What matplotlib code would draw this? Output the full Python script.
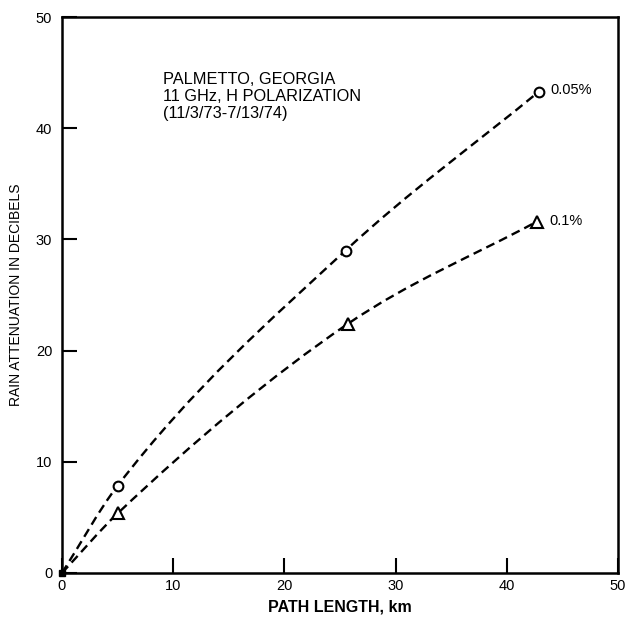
import matplotlib
matplotlib.use("Agg")
import matplotlib.pyplot as plt
from matplotlib.path import Path
from matplotlib.patches import PathPatch

plt.rcParams['font.family'] = ['Liberation Sans', 'DejaVu Sans']

# Data
path_km_005 = [0.0, 5.0, 25.5, 42.9]
atten_005 = [0.0, 7.85, 29.0, 43.3]
path_km_01 = [0.0, 5.05, 25.7, 42.7]
atten_01 = [0.0, 5.4, 22.4, 31.6]
series_labels = ["0.05%", "0.1%"]
x_ticks = [0, 10, 20, 30, 40, 50]
y_ticks = [0, 10, 20, 30, 40, 50]
annotation = "PALMETTO, GEORGIA\n11 GHz, H POLARIZATION\n(11/3/73-7/13/74)"


def smooth_path(xs, ys):
    """Monotone cubic Bezier path through the data points (rendering only)."""
    n = len(xs)
    sec = [(ys[i + 1] - ys[i]) / (xs[i + 1] - xs[i]) for i in range(n - 1)]
    m = [sec[0]] + [(sec[i - 1] + sec[i]) / 2 for i in range(1, n - 1)] + [sec[-1]]
    verts = [(xs[0], ys[0])]
    codes = [Path.MOVETO]
    for i in range(n - 1):
        h = (xs[i + 1] - xs[i]) / 3.0
        verts += [(xs[i] + h, ys[i] + m[i] * h),
                  (xs[i + 1] - h, ys[i + 1] - m[i + 1] * h),
                  (xs[i + 1], ys[i + 1])]
        codes += [Path.CURVE4] * 3
    return Path(verts, codes)


fig = plt.figure(figsize=(6.28, 6.21), dpi=100)
ax = fig.add_axes([0.0987, 0.0773, 0.8853, 0.8953])
ax.set_xlim(0, 50)
ax.set_ylim(0, 50)

lw = 1.7
for xs, ys, mk, ms in [(path_km_005, atten_005, 'o', 7), (path_km_01, atten_01, '^', 8.5)]:
    patch = PathPatch(smooth_path(xs, ys), facecolor='none', edgecolor='black',
                      lw=lw, linestyle=(0, (3.8, 2.2)), transform=ax.transData)
    ax.add_patch(patch)
    ax.plot(xs[1:], ys[1:], linestyle='none', marker=mk, markersize=ms,
            markerfacecolor='white', markeredgecolor='black', markeredgewidth=1.5,
            zorder=3)

ax.plot([0], [0], marker='s', markersize=5, color='black', clip_on=False, zorder=4)

ax.text(path_km_005[-1] + 1.0, atten_005[-1] + 0.1, series_labels[0], fontsize=10.5,
        ha='left', va='center')
ax.text(path_km_01[-1] + 1.1, atten_01[-1] + 0.1, series_labels[1], fontsize=10.5,
        ha='left', va='center')

ax.text(9.1, 45.1, annotation, fontsize=11.8, ha='left', va='top', linespacing=1.2)

ax.set_xticks(x_ticks)
ax.set_yticks(y_ticks)
ax.set_xticklabels([str(v) for v in x_ticks])
ax.set_yticklabels([str(v) for v in y_ticks])
ax.tick_params(direction='in', length=11, width=1.5, labelsize=10.5, top=False, right=False)
ax.tick_params(axis='y', pad=7)
ax.tick_params(axis='x', pad=4)

for sp in ax.spines.values():
    sp.set_linewidth(1.8)

ax.set_xlabel("PATH LENGTH, km", fontsize=11.5, fontweight='bold', labelpad=5)
ax.set_ylabel("RAIN ATTENUATION IN DECIBELS", fontsize=10, labelpad=9)

fig.savefig("out.png", dpi=100, facecolor='white')
